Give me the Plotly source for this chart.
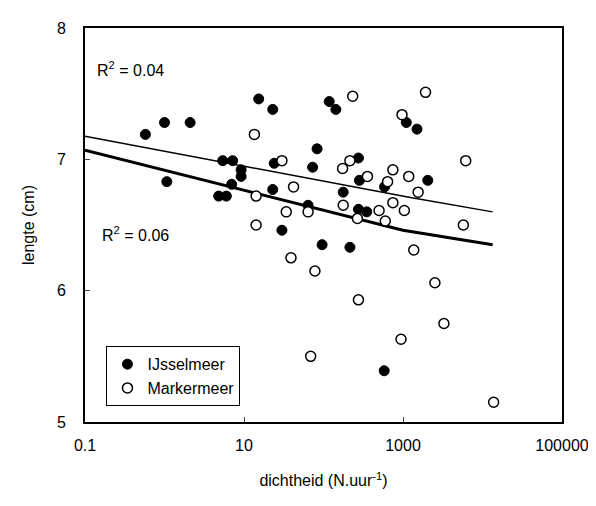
import plotly.graph_objects as go

ijs_x = [0.575, 1.0, 2.1, 1.07, 5.4, 7.2, 9.2, 9.2, 7.0, 4.8, 6.0, 15.3, 23, 24, 23, 30, 83, 73, 64, 96,
         118, 143, 275, 283, 177, 275, 350, 215, 1100, 1500, 2050, 580, 586]
ijs_y = [7.19, 7.28, 7.28, 6.83, 6.99, 6.99, 6.92, 6.87, 6.81, 6.72, 6.72, 7.46, 7.38, 6.97, 6.77, 6.46, 7.08, 6.94, 6.65, 6.35,
         7.44, 7.38, 7.01, 6.84, 6.75, 6.62, 6.60, 6.33, 7.28, 7.23, 6.84, 5.39, 6.79]
mar_x = [13.5, 30, 14.2, 14.2, 42, 34, 64, 39, 78, 69, 233, 215, 174, 357, 177, 267, 275, 746, 640, 746,
         500, 598, 1040, 1180, 1550, 972, 1920, 6150, 5740, 1365, 2520, 3270, 944, 13800]
mar_y = [7.19, 6.99, 6.72, 6.50, 6.79, 6.60, 6.60, 6.25, 6.15, 5.50, 7.48, 6.99, 6.93, 6.87, 6.65, 6.55, 5.93, 6.92, 6.83, 6.67,
         6.61, 6.53, 6.61, 6.87, 6.75, 7.34, 7.51, 6.99, 6.50, 6.31, 6.06, 5.75, 5.63, 5.15]
fit_mar_x = [0.1, 500, 1240, 13400]
fit_mar_y = [7.175, 6.76, 6.71, 6.60]
fit_ijs_x = [0.1, 1000, 13400]
fit_ijs_y = [7.07, 6.46, 6.35]

fig = go.Figure()
fig.add_trace(go.Scatter(x=fit_mar_x, y=fit_mar_y, mode="lines", line=dict(color="black", width=1.5), showlegend=False))
fig.add_trace(go.Scatter(x=fit_ijs_x, y=fit_ijs_y, mode="lines", line=dict(color="black", width=3), showlegend=False))
fig.add_trace(go.Scatter(x=ijs_x, y=ijs_y, mode="markers", name="IJsselmeer",
                         marker=dict(color="black", size=10, line=dict(color="black", width=1))))
fig.add_trace(go.Scatter(x=mar_x, y=mar_y, mode="markers", name="Markermeer",
                         marker=dict(color="white", size=10, line=dict(color="black", width=1.5))))
fig.add_annotation(x=-0.43, y=7.69, xref="x", yref="y", text="R<sup>2</sup> = 0.04", showarrow=False,
                   xanchor="center", font=dict(size=16, color="black"))
fig.add_annotation(x=-0.37, y=6.43, xref="x", yref="y", text="R<sup>2</sup> = 0.06", showarrow=False,
                   xanchor="center", font=dict(size=16, color="black"))
fig.update_layout(
    width=596, height=506, plot_bgcolor="white", paper_bgcolor="white",
    margin=dict(l=77, r=42, t=17, b=92),
    font=dict(family="Liberation Sans, Arial", size=16, color="black"),
    legend=dict(x=0.045, y=0.04, xanchor="left", yanchor="bottom", bordercolor="black", borderwidth=1,
                bgcolor="white", font=dict(size=16)),
    xaxis=dict(type="log", range=[-1, 5], tickvals=[0.1, 10, 1000, 100000], ticktext=["0.1", "10", "1000", "100000"],
               showline=True, linecolor="black", linewidth=2, mirror=True, ticks="inside", ticklen=5,
               ticklabelstandoff=8, showgrid=False, zeroline=False,
               title=dict(text="dichtheid (N.uur<sup>-1</sup>)", font=dict(size=16), standoff=22)),
    yaxis=dict(range=[5, 8], tickvals=[5, 6, 7, 8], showline=True, linecolor="black", linewidth=2, mirror=True,
               ticks="inside", ticklen=5, ticklabelstandoff=14, showgrid=False, zeroline=False,
               title=dict(text="lengte (cm)", font=dict(size=16), standoff=18)),
)
fig.write_html("out.html")
